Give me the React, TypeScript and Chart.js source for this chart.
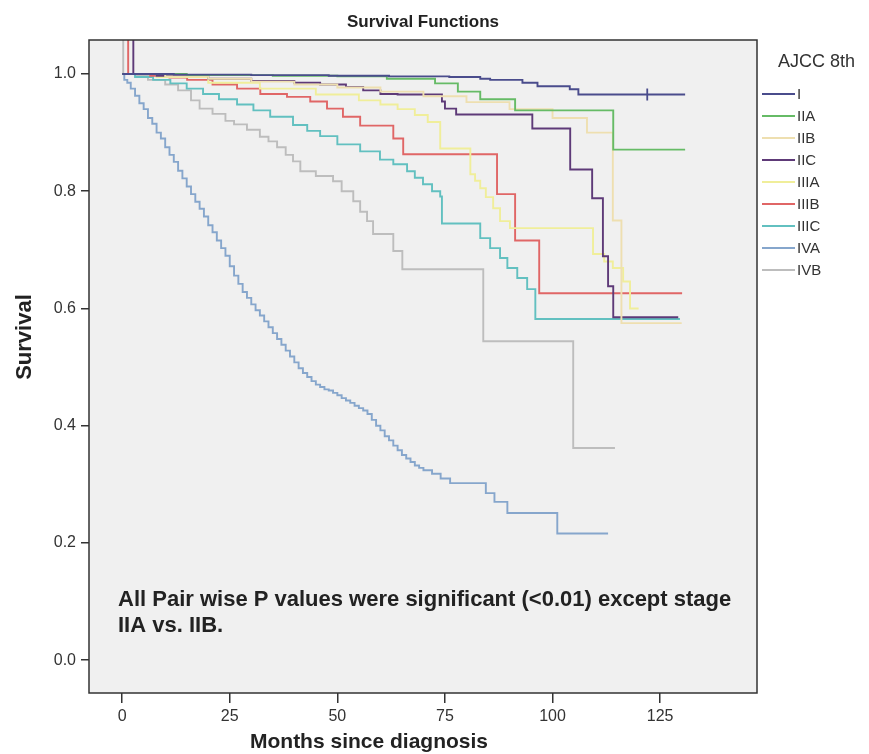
import React, { useEffect, useRef } from 'react';
import { Chart, registerables } from 'chart.js';

Chart.register(...registerables);

const FONT = '"Liberation Sans", Arial, Helvetica, sans-serif';

// ---- Axis ranges / ticks ----
const X_MIN = -7.7;
const X_MAX = 147.5;
const X_STEP = 25;
const Y_MIN = -0.056;
const Y_MAX = 1.058;
const Y_STEP = 0.2;

// ---- Text ----
const chartTitle = 'Survival Functions';
const xTitle = 'Months since diagnosis';
const yTitle = 'Survival';
const legendTitle = 'AJCC 8th';
const noteLines = [
  'All Pair wise P values were significant (<0.01) except stage',
  'IIA vs. IIB.',
];

// ---- Series (months, survival) ----
const stageLabels = ['I', 'IIA', 'IIB', 'IIC', 'IIIA', 'IIIB', 'IIIC', 'IVA', 'IVB'];
const stageColors = ['#4a4c8c', '#66bb66', '#eedfb0', '#5e3a78', '#f0ee9a', '#e06666', '#62c0c0', '#86a6cc', '#bdbdbd'];

const stageI_t = [0, 12, 30, 48, 62, 76, 83.2, 85.5, 93, 96.5, 104, 106, 130.8];
const stageI_s = [1, 0.999, 0.998, 0.997, 0.996, 0.995, 0.992, 0.99, 0.985, 0.979, 0.974, 0.965, 0.965];

const stageIIA_t = [0, 15, 35, 50, 61.5, 72.7, 78, 83.2, 91.3, 114.1, 130.8];
const stageIIA_s = [1, 0.998, 0.997, 0.996, 0.992, 0.984, 0.97, 0.957, 0.938, 0.871, 0.871];

const stageIIB_t = [0, 10, 20, 30, 40, 50, 60, 70, 80, 90, 100, 108, 114, 116, 130];
const stageIIB_s = [1, 0.996, 0.992, 0.987, 0.982, 0.977, 0.97, 0.962, 0.952, 0.94, 0.925, 0.9, 0.75, 0.575, 0.575];

const stageIIC_t = [0, 2.6, 8, 20, 30, 40, 46, 52, 56, 60, 64, 74.3, 75, 77.6, 95.3, 104.1, 109.2, 111.7, 112.9, 114.1, 129.2];
const stageIIC_s = [1.1, 1, 0.997, 0.992, 0.988, 0.985, 0.982, 0.978, 0.972, 0.966, 0.965, 0.953, 0.941, 0.931, 0.907, 0.837, 0.788, 0.689, 0.638, 0.585, 0.585];

const stageIIIA_t = [0, 8, 20, 32, 45, 55, 60, 64, 68, 71, 73.9, 80.9, 82, 83.2, 84.5, 86.2, 87.8, 90.1, 109.4, 112, 114, 116.4, 118, 120];
const stageIIIA_s = [1, 0.995, 0.985, 0.975, 0.965, 0.955, 0.948, 0.94, 0.93, 0.918, 0.873, 0.829, 0.818, 0.805, 0.79, 0.771, 0.749, 0.737, 0.693, 0.68, 0.669, 0.646, 0.6, 0.6];

const stageIIIB_t = [0, 1.4, 6.5, 11, 15.1, 21, 26.7, 32.1, 38.3, 43.7, 47.6, 51.3, 55.3, 63, 65.3, 87.1, 91.3, 96.9, 130.1];
const stageIIIB_s = [1.1, 1, 0.997, 0.994, 0.99, 0.982, 0.975, 0.966, 0.961, 0.953, 0.941, 0.927, 0.912, 0.89, 0.863, 0.795, 0.716, 0.626, 0.626];

const stageIIIC_t = [0, 3, 7.2, 11.2, 15, 18.8, 22.5, 26.7, 30.5, 34.4, 39.7, 43, 46, 50, 55.3, 59.9, 63, 66.2, 68, 69.9, 72, 73.9, 74.3, 83.2, 85.5, 87.8, 89.5, 91.8, 94.1, 96, 129.6];
const stageIIIC_s = [1, 0.995, 0.99, 0.984, 0.975, 0.966, 0.957, 0.948, 0.938, 0.927, 0.913, 0.903, 0.894, 0.88, 0.868, 0.854, 0.846, 0.834, 0.823, 0.812, 0.8, 0.791, 0.745, 0.72, 0.703, 0.686, 0.669, 0.652, 0.633, 0.582, 0.582];

const stageIVA_t = [0, 0.5, 1.2, 2, 3, 4, 5, 6, 7, 8, 9, 10, 11, 12, 13, 14, 15, 16, 17, 18, 19, 20, 21, 22, 23, 24, 25, 26, 27, 28, 29, 30, 31, 32, 33, 34, 35, 36, 37, 38, 39, 40, 41, 42, 43, 44, 45, 46, 47, 48, 49, 50, 51, 52, 53, 54, 55, 56, 57, 58, 59, 60, 61, 62, 63, 64, 65, 66, 67, 68, 69, 70, 72, 74, 76.2, 84.5, 86.5, 89.5, 101.1, 112.9];
const stageIVA_s = [1, 0.99, 0.985, 0.975, 0.963, 0.95, 0.94, 0.925, 0.915, 0.9, 0.89, 0.875, 0.862, 0.85, 0.835, 0.822, 0.808, 0.795, 0.782, 0.77, 0.757, 0.742, 0.73, 0.716, 0.703, 0.69, 0.672, 0.656, 0.642, 0.628, 0.618, 0.607, 0.597, 0.588, 0.578, 0.568, 0.558, 0.548, 0.538, 0.528, 0.518, 0.508, 0.498, 0.49, 0.483, 0.476, 0.47, 0.466, 0.462, 0.46, 0.456, 0.452, 0.447, 0.443, 0.439, 0.434, 0.43, 0.426, 0.42, 0.41, 0.4, 0.392, 0.382, 0.375, 0.366, 0.358, 0.35, 0.344, 0.338, 0.332, 0.328, 0.324, 0.318, 0.31, 0.302, 0.285, 0.27, 0.251, 0.216, 0.216];

const stageIVB_t = [0, 0.25, 3, 6, 10, 13, 16, 18, 21, 24, 26, 29, 32, 34, 36, 38, 39.7, 41.4, 45, 49, 51, 53.7, 55.3, 56.9, 58.3, 63, 65.1, 83.9, 104.8, 114.5];
const stageIVB_s = [1.1, 1, 0.997, 0.99, 0.982, 0.972, 0.955, 0.941, 0.932, 0.92, 0.914, 0.905, 0.893, 0.885, 0.875, 0.862, 0.851, 0.834, 0.826, 0.817, 0.8, 0.783, 0.765, 0.749, 0.727, 0.698, 0.667, 0.544, 0.362, 0.362];

// censored observation marks (stage I)
const censorI_t = [122];
const censorI_s = [0.965];

const seriesT = [stageI_t, stageIIA_t, stageIIB_t, stageIIC_t, stageIIIA_t, stageIIIB_t, stageIIIC_t, stageIVA_t, stageIVB_t];
const seriesS = [stageI_s, stageIIA_s, stageIIB_s, stageIIC_s, stageIIIA_s, stageIIIB_s, stageIIIC_s, stageIVA_s, stageIVB_s];

const decorPlugin = {
  id: 'decor',
  beforeDraw(chart: any) {
    const { ctx, chartArea: a } = chart;
    ctx.save();
    ctx.fillStyle = '#ffffff';
    ctx.fillRect(0, 0, chart.width, chart.height);
    ctx.fillStyle = '#f0f0f0';
    ctx.fillRect(a.left, a.top, a.right - a.left, a.bottom - a.top);
    ctx.restore();
  },
  afterDraw(chart: any) {
    const { ctx, chartArea: a } = chart;
    ctx.save();
    // frame
    ctx.strokeStyle = '#333333';
    ctx.lineWidth = 1.5;
    ctx.strokeRect(a.left, a.top, a.right - a.left, a.bottom - a.top);

    ctx.fillStyle = '#222222';
    ctx.textAlign = 'center';
    ctx.textBaseline = 'middle';
    // chart title
    ctx.font = `bold 17px ${FONT}`;
    ctx.fillText(chartTitle, (a.left + a.right) / 2, 22);

    // x title
    ctx.font = `bold 21px ${FONT}`;
    ctx.fillText(xTitle, a.left + 280, a.bottom + 49);

    // y title
    ctx.save();
    ctx.font = `bold 22px ${FONT}`;
    ctx.translate(25, a.top + 297);
    ctx.rotate(-Math.PI / 2);
    ctx.fillText(yTitle, 0, 0);
    ctx.restore();

    // note
    ctx.font = `bold 22px ${FONT}`;
    ctx.textAlign = 'left';
    noteLines.forEach((l, i) => ctx.fillText(l, a.left + 29, a.bottom - 93 + i * 26));

    // legend
    ctx.fillStyle = '#333333';
    ctx.font = `18px ${FONT}`;
    ctx.fillText(legendTitle, a.right + 21, a.top + 22);
    ctx.font = `15px ${FONT}`;
    chart.data.datasets.forEach((ds: any, i: number) => {
      if (i >= stageLabels.length) return;
      const y = a.top + 54 + i * 22;
      ctx.strokeStyle = ds.borderColor;
      ctx.lineWidth = 1.8;
      ctx.beginPath();
      ctx.moveTo(a.right + 5, y);
      ctx.lineTo(a.right + 38, y);
      ctx.stroke();
      ctx.fillStyle = '#333333';
      ctx.fillText(ds.label, a.right + 40, y + 1);
    });
    ctx.restore();
  },
};

export default function App() {
  const ref = useRef<HTMLCanvasElement>(null);
  useEffect(() => {
    if (!ref.current) return;
    const datasets: any[] = seriesT.map((t, i) => ({
      label: stageLabels[i],
      data: t.map((x, j) => ({ x, y: seriesS[i][j] })),
      borderColor: stageColors[i],
      backgroundColor: stageColors[i],
      borderWidth: 1.9,
      pointRadius: 0,
      stepped: 'before',
      fill: false,
      tension: 0,
    }));
    datasets.push({
      label: 'censored',
      data: censorI_t.map((x, j) => ({ x, y: censorI_s[j] })),
      borderColor: stageColors[0],
      backgroundColor: stageColors[0],
      borderWidth: 1.8,
      showLine: false,
      pointStyle: 'line',
      rotation: 90,
      pointRadius: 6,
    });
    const tickFont = { family: FONT, size: 16 };
    const chart = new Chart(ref.current, {
      type: 'line',
      data: { datasets },
      options: {
        animation: false,
        responsive: false,
        layout: { padding: { top: 40, right: 112, left: 0, bottom: 0 } },
        scales: {
          x: {
            type: 'linear',
            min: X_MIN,
            max: X_MAX,
            afterFit: (s: any) => { s.height = 61; },
            ticks: { stepSize: X_STEP, includeBounds: false, font: tickFont, color: '#333', padding: 4, maxRotation: 0 },
            grid: { drawOnChartArea: false, tickLength: 10, color: '#333', lineWidth: 1.5 },
            border: { display: false },
          },
          y: {
            type: 'linear',
            min: Y_MIN,
            max: Y_MAX,
            afterFit: (s: any) => { s.width = 89; },
            ticks: {
              stepSize: Y_STEP,
              includeBounds: false,
              font: tickFont,
              color: '#333',
              padding: 5,
              callback: (v: any) => Number(v).toFixed(1),
            },
            grid: { drawOnChartArea: false, tickLength: 8, color: '#333', lineWidth: 1.5 },
            border: { display: false },
          },
        },
        plugins: { legend: { display: false }, tooltip: { enabled: false }, title: { display: false } },
      },
      plugins: [decorPlugin],
    } as any);
    return () => chart.destroy();
  }, []);
  return (
    <div style={{ position: 'fixed', left: 0, top: 0, width: 869, height: 754, background: '#fff' }}>
      <canvas ref={ref} width={869} height={754} style={{ width: 869, height: 754, display: 'block' }} />
    </div>
  );
}
